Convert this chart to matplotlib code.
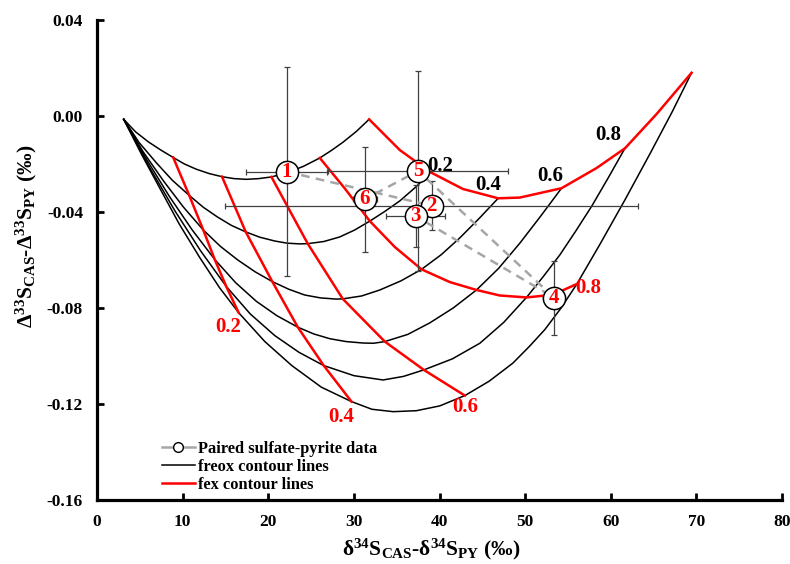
import matplotlib
matplotlib.use("Agg")
import matplotlib.pyplot as plt
from matplotlib.lines import Line2D
from matplotlib.ticker import FormatStrFormatter, MultipleLocator

plt.rcParams['font.family'] = ['Liberation Serif', 'DejaVu Serif']
plt.rcParams['font.weight'] = 'bold'
plt.rcParams['mathtext.fontset'] = 'custom'
plt.rcParams['mathtext.rm'] = 'Liberation Serif:bold'
plt.rcParams['mathtext.bf'] = 'Liberation Serif:bold'
plt.rcParams['mathtext.it'] = 'Liberation Serif:italic:bold'
plt.rcParams['axes.unicode_minus'] = False

# freox contour lines (black), freox = 0, 0.2, ... 1.0
freox_x = [
    [3.12, 4.5, 6.0, 7.5, 8.90, 10.2, 11.61, 13.1, 14.60, 16.0, 17.45, 18.9, 20.37,
     22.13, 24.1, 26.02, 27.4, 28.74, 30.3, 31.78],
    [3.12, 4.9, 6.95, 8.8, 10.77, 12.4, 14.07, 15.7, 17.37, 19.0, 20.76, 22.2, 23.68,
     24.61, 26.5, 28.35, 30.1, 31.86, 33.6, 35.36, 37.2, 38.98],
    [3.12, 5.4, 7.77, 10.1, 12.41, 14.4, 16.44, 18.45, 20.47, 22.4, 24.26, 26.1, 27.97,
     28.70, 30.9, 33.03, 35.5, 37.90, 40.2, 42.37, 44.6, 46.85],
    [3.12, 5.8, 8.43, 11.1, 13.75, 16.2, 18.6, 21.0, 23.45, 25.3, 27.18, 29.1, 31.07,
     32.3, 33.61, 36.3, 38.87, 41.6, 44.32, 46.9, 49.38, 51.8, 54.25],
    [3.12, 6.1, 9.11, 12.1, 15.09, 17.9, 20.76, 23.6, 26.48, 30.0, 33.41, 35.8, 38.17,
     41.5, 44.71, 47.5, 50.16, 52.1, 54.05, 55.9, 57.79, 59.7, 61.65],
    [3.12, 5.2, 7.32, 9.6, 12.0, 14.3, 16.55, 19.6, 22.75, 26.2, 29.72, 32.1, 34.58,
     37.3, 40.03, 42.96, 45.8, 48.56, 50.5, 52.3, 54.2, 56.04, 58.73, 61.65, 64.57,
     67.14, 69.44],
]
freox_y = [
    [-0.0014, -0.0066, -0.0108, -0.0143, -0.0173, -0.0200, -0.0222, -0.0240, -0.0253,
     -0.0261, -0.0264, -0.0261, -0.0254, -0.0237, -0.0210, -0.0175, -0.0143, -0.0109,
     -0.0064, -0.0014],
    [-0.0014, -0.0110, -0.0196, -0.0268, -0.0331, -0.0380, -0.0421, -0.0456, -0.0483,
     -0.0505, -0.0521, -0.0530, -0.0533, -0.0532, -0.0523, -0.0504, -0.0475, -0.0438,
     -0.0398, -0.0354, -0.0297, -0.0235],
    [-0.0014, -0.0150, -0.0271, -0.0380, -0.0475, -0.0543, -0.0600, -0.0649, -0.0690,
     -0.0722, -0.0746, -0.0758, -0.0763, -0.0762, -0.0750, -0.0725, -0.0687, -0.0639,
     -0.0578, -0.0508, -0.0428, -0.0343],
    [-0.0014, -0.0182, -0.0334, -0.0474, -0.0598, -0.0695, -0.0772, -0.0832, -0.0880,
     -0.0908, -0.0928, -0.0940, -0.0946, -0.0947, -0.0940, -0.0910, -0.0862, -0.0800,
     -0.0725, -0.0635, -0.0530, -0.0418, -0.0301],
    [-0.0014, -0.0212, -0.0396, -0.0562, -0.0710, -0.0825, -0.0915, -0.0985, -0.1040,
     -0.1082, -0.1100, -0.1085, -0.1058, -0.1012, -0.0947, -0.0860, -0.0756, -0.0670,
     -0.0579, -0.0480, -0.0375, -0.0258, -0.0135],
    [-0.0014, -0.0160, -0.0300, -0.0450, -0.0590, -0.0715, -0.0820, -0.0940, -0.1040,
     -0.1130, -0.1190, -0.1222, -0.1232, -0.1228, -0.1208, -0.1165, -0.1105, -0.1030,
     -0.0960, -0.0890, -0.0800, -0.0700, -0.0535, -0.0350, -0.0158, 0.0015, 0.0180],
]

# fex contour lines (red), fex = 0.2, 0.4, 0.6, 0.8, 1.0
fex_x = [
    [8.90, 10.77, 12.41, 13.75, 15.09, 16.55],
    [14.60, 17.37, 20.47, 23.45, 26.48, 29.72],
    [20.37, 24.61, 28.70, 33.61, 38.17, 42.96],
    [26.02, 28.94, 31.86, 34.78, 37.90, 41.20, 44.32, 47.04, 50.16, 53.24, 56.04],
    [31.78, 35.36, 38.98, 42.72, 46.85, 49.38, 54.25, 58.34, 61.65, 65.35, 69.44],
]
fex_y = [
    [-0.0173, -0.0331, -0.0475, -0.0598, -0.0710, -0.0820],
    [-0.0253, -0.0483, -0.0690, -0.0880, -0.1040, -0.1190],
    [-0.0254, -0.0532, -0.0762, -0.0940, -0.1058, -0.1165],
    [-0.0175, -0.0302, -0.0438, -0.0546, -0.0639, -0.0692, -0.0725, -0.0748, -0.0756,
     -0.0745, -0.0700],
    [-0.0014, -0.0142, -0.0235, -0.0304, -0.0343, -0.0340, -0.0301, -0.0217, -0.0135,
     0.0008, 0.0180],
]

# paired sulfate-pyrite data
sample_id = ['1', '2', '3', '4', '5', '6']
sample_x = [22.13, 39.07, 37.20, 53.39, 37.50, 31.27]
sample_y = [-0.0232, -0.0374, -0.0417, -0.0757, -0.0229, -0.0347]
sample_xerr = [4.7, 24.1, 3.45, 1.3, 10.5, 1.4]
sample_yerr = [0.0435, 0.0103, 0.0129, 0.0154, 0.0415, 0.0218]

levels = ['0.2', '0.4', '0.6', '0.8']

fig = plt.figure(figsize=(7.9, 5.64), dpi=100)
ax = fig.add_axes([0.1228, 0.1135, 0.8671, 0.8511])

for xs, ys in zip(freox_x, freox_y):
    ax.plot(xs, ys, color='black', lw=1.1, solid_joinstyle='round', zorder=2)
for xs, ys in zip(fex_x, fex_y):
    ax.plot(xs, ys, color='red', lw=1.8, solid_joinstyle='round', zorder=2)

ax.errorbar(sample_x, sample_y, xerr=sample_xerr, yerr=sample_yerr, fmt='none',
            ecolor='#404040', elinewidth=0.9, capsize=2.5, capthick=0.9, zorder=3)
ax.plot(sample_x, sample_y, color='#a6a6a6', lw=1.8, dashes=(3.5, 2.5), zorder=4)
ax.plot(sample_x, sample_y, 'o', ms=16, mfc='white', mec='black', mew=1.1,
        ls='none', zorder=5)
for n, x, y in zip(sample_id, sample_x, sample_y):
    ax.text(x, y, n, color='red', fontsize=15, fontweight='bold', ha='center',
            va='center', zorder=6)

# contour labels
black_pos = [(40.03, -0.0208), (45.68, -0.0288), (52.88, -0.0250), (59.70, -0.0079)]
red_pos = [(15.30, -0.0878), (28.55, -0.1253), (42.96, -0.1211), (57.36, -0.0718)]
for lab, (x, y) in zip(levels, black_pos):
    ax.text(x, y, lab, color='black', fontsize=15, fontweight='bold',
            ha='center', va='center', zorder=6)
for lab, (x, y) in zip(levels, red_pos):
    ax.text(x, y, lab, color='red', fontsize=15, fontweight='bold',
            ha='center', va='center', zorder=6)

ax.set_xlim(0, 80)
ax.set_ylim(-0.16, 0.04)
ax.xaxis.set_major_locator(MultipleLocator(10))
ax.yaxis.set_major_locator(MultipleLocator(0.04))
ax.yaxis.set_major_formatter(FormatStrFormatter('%.2f'))
for s in ['top', 'right']:
    ax.spines[s].set_visible(False)
for s in ['left', 'bottom']:
    ax.spines[s].set_linewidth(2.3)
ax.tick_params(direction='in', length=5, width=2, labelsize=12.5, pad=10)
for t in ax.get_xticklabels() + ax.get_yticklabels():
    t.set_fontweight('bold')

ax.set_xlabel('δ$^{\\mathrm{34}}$S$_{\\mathrm{CAS}}$-δ$^{\\mathrm{34}}$S$_{\\mathrm{PY}}$ (‰)',
              fontsize=15.5, fontweight='bold')
ax.set_ylabel('Δ$^{\\mathrm{33}}$S$_{\\mathrm{CAS}}$-Δ$^{\\mathrm{33}}$S$_{\\mathrm{PY}}$ (‰)',
              fontsize=15.5, fontweight='bold')
ax.xaxis.set_label_coords(0.488, -0.077)
ax.yaxis.set_label_coords(-0.085, 0.55)

handles = [
    Line2D([], [], color='#a6a6a6', lw=1.8, marker='o', ms=7, mfc='white',
           mec='black', mew=1.0),
    Line2D([], [], color='black', lw=1.1),
    Line2D([], [], color='red', lw=1.8),
]
ax.legend(handles, ['Paired sulfate-pyrite data', 'freox contour lines', 'fex contour lines'],
          loc='upper left', bbox_to_anchor=(0.095, 0.123), frameon=False, fontsize=11.8,
          handlelength=2.0, handletextpad=0.2, labelspacing=0.12, borderpad=0,
          borderaxespad=0)

fig.savefig('out.png', dpi=100)
